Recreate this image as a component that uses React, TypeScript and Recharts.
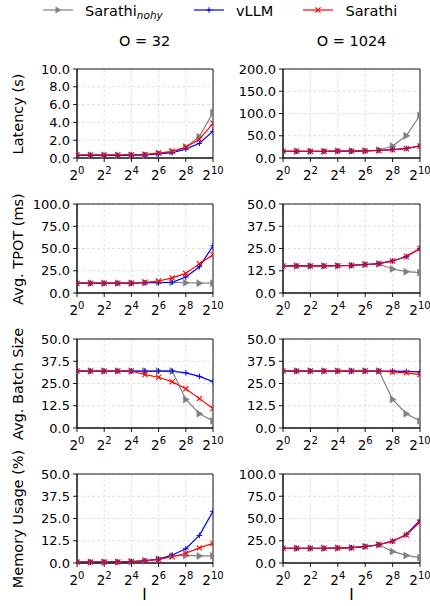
import React from "react";
import { LineChart, Line, XAxis, YAxis, CartesianGrid, ReferenceArea } from "recharts";

const I = [1, 2, 4, 8, 16, 32, 64, 128, 256, 512, 1024];
const X_TICKS = [1, 4, 16, 64, 256, 1024];

// Latency (s)
const lat32Nohy = [0.3, 0.3, 0.3, 0.3, 0.3, 0.35, 0.5, 0.7, 1.25, 2.4, 5.1];
const lat32Vllm = [0.3, 0.3, 0.3, 0.3, 0.32, 0.35, 0.45, 0.6, 1.0, 1.65, 3.0];
const lat32Sarathi = [0.35, 0.35, 0.35, 0.35, 0.37, 0.4, 0.55, 0.75, 1.2, 2.1, 3.9];
const lat1024Nohy = [15, 15, 15, 15, 15.5, 15.5, 16, 18, 27, 50, 96];
const lat1024Vllm = [15, 15, 15, 15, 15.5, 15.5, 16, 17, 19, 21.5, 27];
const lat1024Sarathi = [15, 15, 15, 15, 15.5, 15.5, 16, 17, 18.5, 21, 27];

// Avg. TPOT (ms)
const tpot32Nohy = [11, 11, 11, 11, 11, 11.5, 12, 12, 11.5, 11, 11];
const tpot32Vllm = [11, 11, 11, 11, 11, 11.5, 11.5, 12, 18, 29.5, 53];
const tpot32Sarathi = [11, 11, 11, 11, 11.2, 12, 13.5, 17, 22, 33, 43];
const tpot1024Nohy = [15.2, 15.2, 15.2, 15.2, 15.3, 15.5, 16, 16.3, 13.5, 12, 11.5];
const tpot1024Vllm = [15.2, 15.2, 15.2, 15.2, 15.3, 15.5, 16, 16.5, 18, 20.5, 25];
const tpot1024Sarathi = [15.2, 15.2, 15.2, 15.2, 15.3, 15.5, 16, 16.5, 18, 20.5, 25];

// Avg. Batch Size
const bs32Nohy = [32, 32, 32, 32, 32, 32, 32, 32, 16, 8, 4];
const bs32Vllm = [32, 32, 32, 32, 32, 32, 32, 32, 31, 29, 26];
const bs32Sarathi = [32, 32, 32, 32, 32, 30, 28.5, 26, 22, 16.5, 11];
const bs1024Nohy = [32, 32, 32, 32, 32, 32, 32, 32, 16, 8, 4];
const bs1024Vllm = [32, 32, 32, 32, 32, 32, 32, 32, 32, 31.8, 31.5];
const bs1024Sarathi = [32, 32, 32, 32, 32, 32, 32, 32, 31.5, 31, 30];

// Memory Usage (%)
const mem32Nohy = [0.5, 0.5, 0.5, 0.6, 0.8, 1.2, 2.2, 4, 4.2, 4, 4];
const mem32Vllm = [0.5, 0.5, 0.5, 0.6, 0.8, 1.2, 2.2, 4.5, 8, 15.5, 29];
const mem32Sarathi = [0.5, 0.5, 0.5, 0.6, 0.8, 1.2, 2, 3.5, 5.5, 8.5, 11];
const mem1024Nohy = [16.5, 16.5, 16.5, 16.5, 16.8, 17.2, 18.5, 20.5, 13, 8.5, 6];
const mem1024Vllm = [16.5, 16.5, 16.5, 16.5, 16.8, 17.2, 18.5, 20.5, 24.5, 32, 48];
const mem1024Sarathi = [16.5, 16.5, 16.5, 16.5, 16.8, 17.2, 18.5, 20.5, 24.5, 31.5, 46];

const FONT = "DejaVu Sans";
const GRAY = "#808080";
const BLUE = "#0000ff";
const RED = "#ff0000";

const TriDot = (p: any) => {
  const { cx, cy } = p;
  if (cx == null || cy == null) return <g />;
  return <polygon points={`${cx + 3.5},${cy} ${cx - 2.5},${cy - 3.5} ${cx - 2.5},${cy + 3.5}`} fill={GRAY} stroke={GRAY} strokeWidth={0.5} />;
};
const PlusDot = (p: any) => {
  const { cx, cy } = p;
  if (cx == null || cy == null) return <g />;
  const s = 2.8;
  return (
    <g stroke={BLUE} strokeWidth={1}>
      <line x1={cx - s} y1={cy} x2={cx + s} y2={cy} />
      <line x1={cx} y1={cy - s} x2={cx} y2={cy + s} />
    </g>
  );
};
const XDot = (p: any) => {
  const { cx, cy } = p;
  if (cx == null || cy == null) return <g />;
  const s = 2.6;
  return (
    <g stroke={RED} strokeWidth={1.1}>
      <line x1={cx - s} y1={cy - s} x2={cx + s} y2={cy + s} />
      <line x1={cx - s} y1={cy + s} x2={cx + s} y2={cy - s} />
    </g>
  );
};

const XTick = (p: any) => {
  const { x, y, payload } = p;
  const k = Math.round(Math.log2(payload.value));
  return (
    <text x={x} y={y + 16} textAnchor="middle" fontFamily={FONT} fontSize={13.5} fill="#000">
      <tspan>2</tspan>
      <tspan dy={-6} fontSize={10}>{k}</tspan>
    </text>
  );
};

type Panel = {
  col: number;
  row: number;
  ticks: number[];
  nohy: number[];
  vllm: number[];
  sarathi: number[];
};

const panels: Panel[] = [
  { col: 0, row: 0, ticks: [0, 2, 4, 6, 8, 10], nohy: lat32Nohy, vllm: lat32Vllm, sarathi: lat32Sarathi },
  { col: 1, row: 0, ticks: [0, 50, 100, 150, 200], nohy: lat1024Nohy, vllm: lat1024Vllm, sarathi: lat1024Sarathi },
  { col: 0, row: 1, ticks: [0, 25, 50, 75, 100], nohy: tpot32Nohy, vllm: tpot32Vllm, sarathi: tpot32Sarathi },
  { col: 1, row: 1, ticks: [0, 12.5, 25, 37.5, 50], nohy: tpot1024Nohy, vllm: tpot1024Vllm, sarathi: tpot1024Sarathi },
  { col: 0, row: 2, ticks: [0, 12.5, 25, 37.5, 50], nohy: bs32Nohy, vllm: bs32Vllm, sarathi: bs32Sarathi },
  { col: 1, row: 2, ticks: [0, 12.5, 25, 37.5, 50], nohy: bs1024Nohy, vllm: bs1024Vllm, sarathi: bs1024Sarathi },
  { col: 0, row: 3, ticks: [0, 12.5, 25, 37.5, 50], nohy: mem32Nohy, vllm: mem32Vllm, sarathi: mem32Sarathi },
  { col: 1, row: 3, ticks: [0, 25, 50, 75, 100], nohy: mem1024Nohy, vllm: mem1024Vllm, sarathi: mem1024Sarathi },
];

const yLabels = ["Latency (s)", "Avg. TPOT (ms)", "Avg. Batch Size", "Memory Usage (%)"];
const colTitles = ["O = 32", "O = 1024"];

const ROW_TOPS = [69, 204, 339, 474];
const PLOT_H = 89;
const COL_LEFT = [0, 215];
const CHART_W = [232, 215];
const YAXIS_W = [77, 68];
const RIGHT_M = [19, 10];

const PanelChart = ({ p }: { p: Panel }) => {
  const data = I.map((x, i) => ({ x, nohy: p.nohy[i], vllm: p.vllm[i], sarathi: p.sarathi[i] }));
  const ymax = p.ticks[p.ticks.length - 1];
  return (
    <div style={{ position: "absolute", left: COL_LEFT[p.col], top: ROW_TOPS[p.row] - 10 }}>
      <LineChart width={CHART_W[p.col]} height={PLOT_H + 10 + 28} data={data} margin={{ top: 10, right: RIGHT_M[p.col], bottom: 0, left: 0 }}>
        <CartesianGrid stroke="#d9d9d9" strokeDasharray="3 2" strokeWidth={0.8} />
        <XAxis
          dataKey="x"
          type="number"
          scale="log"
          domain={[1, 1024]}
          ticks={X_TICKS}
          interval={0}
          tick={<XTick />}
          tickSize={4}
          height={28}
          axisLine={{ stroke: "#000", strokeWidth: 0.9 }}
          tickLine={{ stroke: "#000", strokeWidth: 0.9 }}
          allowDataOverflow
        />
        <YAxis
          type="number"
          domain={[0, ymax]}
          ticks={p.ticks}
          tickFormatter={(v: number) => v.toFixed(1)}
          width={YAXIS_W[p.col]}
          tickSize={4}
          tickMargin={3}
          tick={{ fontFamily: FONT, fontSize: 13, fill: "#000" }}
          axisLine={{ stroke: "#000", strokeWidth: 0.9 }}
          tickLine={{ stroke: "#000", strokeWidth: 0.9 }}
          interval={0}
        />
        <ReferenceArea x1={1} x2={1024} y1={0} y2={ymax} fill="none" stroke="#000" strokeWidth={0.9} ifOverflow="visible" />
        <Line dataKey="nohy" stroke={GRAY} strokeWidth={1.2} dot={<TriDot />} isAnimationActive={false} />
        <Line dataKey="vllm" stroke={BLUE} strokeWidth={1.2} dot={<PlusDot />} isAnimationActive={false} />
        <Line dataKey="sarathi" stroke={RED} strokeWidth={1.2} dot={<XDot />} isAnimationActive={false} />
      </LineChart>
    </div>
  );
};

const textStyle: React.CSSProperties = { fontFamily: FONT, fontSize: 14.5, color: "#000", position: "absolute", whiteSpace: "nowrap", lineHeight: "17px" };

export default function App() {
  return (
    <div style={{ position: "absolute", left: 0, top: 0, width: 430, height: 606, background: "#fff", overflow: "hidden" }}>
      {/* Legend */}
      <svg style={{ position: "absolute", left: 0, top: 0 }} width={430} height={26}>
        <line x1={43} y1={10} x2={73} y2={10} stroke={GRAY} strokeWidth={1.2} />
        <polygon points={`61.5,10 55.5,6.5 55.5,13.5`} fill={GRAY} />
        <text x={85} y={15.5} fontFamily={FONT} fontSize={14.5} fill="#000">
          Sarathi<tspan fontStyle="italic" fontSize={10.5} dy={3.5}>nohy</tspan>
        </text>
        <line x1={194} y1={10} x2={224} y2={10} stroke={BLUE} strokeWidth={1.2} />
        <line x1={206.2} y1={10} x2={211.8} y2={10} stroke={BLUE} strokeWidth={1} />
        <line x1={209} y1={7.2} x2={209} y2={12.8} stroke={BLUE} strokeWidth={1} />
        <text x={236} y={15.5} fontFamily={FONT} fontSize={14.5} fill="#000">vLLM</text>
        <line x1={303} y1={10} x2={333} y2={10} stroke={RED} strokeWidth={1.2} />
        <g stroke={RED} strokeWidth={1.1}>
          <line x1={315.4} y1={7.4} x2={320.6} y2={12.6} />
          <line x1={315.4} y1={12.6} x2={320.6} y2={7.4} />
        </g>
        <text x={345.5} y={15.5} fontFamily={FONT} fontSize={14.5} fill="#000">Sarathi</text>
      </svg>
      {/* Column titles */}
      {colTitles.map((t, i) => (
        <div key={t} style={{ ...textStyle, left: i === 0 ? 144.5 : 351.5, top: 33, transform: "translateX(-50%)" }}>{t}</div>
      ))}
      {/* Y labels */}
      {yLabels.map((t, r) => (
        <div key={t} style={{ ...textStyle, fontSize: 14.5, left: 18, top: ROW_TOPS[r] + PLOT_H / 2, transform: "translate(-50%, -50%) rotate(-90deg)" }}>{t}</div>
      ))}
      {panels.map((p, i) => (
        <PanelChart key={i} p={p} />
      ))}
      {/* X labels */}
      {[144.5, 351.5].map((x) => (
        <div key={x} style={{ ...textStyle, fontSize: 15, left: x, top: 587, transform: "translateX(-50%)" }}>I</div>
      ))}
    </div>
  );
}
